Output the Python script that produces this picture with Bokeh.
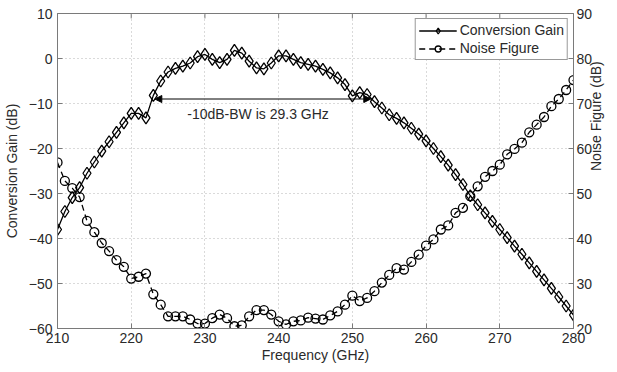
import math
from bokeh.plotting import figure
from bokeh.models import (Range1d, LinearAxis, FixedTicker, Legend, LegendItem,
                          Arrow, NormalHead, Label)
from bokeh.embed import file_html
from bokeh.resources import INLINE

# ---------------- data ----------------
freq = [210, 211, 212, 213, 214, 215, 216, 217, 218, 219,
        220, 221, 222, 223, 224, 225, 226, 227, 228, 229,
        230, 231, 232, 233, 234, 235, 236, 237, 238, 239,
        240, 241, 242, 243, 244, 245, 246, 247, 248, 249,
        250, 251, 252, 253, 254, 255, 256, 257, 258, 259,
        260, 261, 262, 263, 264, 265, 266, 267, 268, 269,
        270, 271, 272, 273, 274, 275, 276, 277, 278, 279, 280]

conv_gain = [-38.0, -34.0, -30.9, -28.7, -25.5, -23.0, -20.6, -18.5, -16.4, -14.3,
             -12.2, -12.2, -13.2, -8.2, -5.0, -3.0, -2.2, -1.7, -1.0, 0.4,
             0.9, -0.2, -0.9, -0.2, 1.8, 1.2, -0.6, -2.1, -2.3, -1.0,
             0.6, 0.6, -0.2, -0.9, -1.3, -1.7, -2.4, -3.2, -4.3, -5.8,
             -8.3, -7.6, -8.0, -9.6, -11.0, -12.5, -13.3, -14.3, -15.5, -16.8,
             -18.3, -20.0, -21.8, -23.7, -25.8, -28.0, -30.5, -32.5, -34.3, -36.2,
             -38.0, -39.8, -41.7, -43.5, -45.4, -47.3, -49.2, -51.1, -53.0, -55.0, -57.0]

noise_fig = [56.9, 52.8, 51.2, 49.2, 43.9, 41.4, 39.0, 37.2, 35.2, 33.7,
             31.1, 31.5, 32.2, 27.6, 25.3, 22.7, 22.7, 22.7, 22.0, 21.1,
             21.1, 22.3, 23.1, 22.3, 20.5, 20.7, 22.7, 24.1, 24.1, 23.1,
             21.6, 20.9, 21.6, 21.8, 22.4, 22.2, 22.0, 22.9, 23.8, 25.3,
             27.3, 26.1, 26.8, 28.3, 30.2, 31.9, 33.4, 33.1, 34.8, 36.4,
             38.4, 39.8, 42.0, 42.9, 45.7, 46.8, 49.4, 51.6, 53.7, 55.0,
             56.4, 58.7, 59.9, 61.3, 63.6, 65.3, 67.0, 69.4, 71.0, 73.0, 75.2]

x_ticks = [210, 220, 230, 240, 250, 260, 270, 280]
cg_ticks = [-60, -50, -40, -30, -20, -10, 0, 10]
nf_ticks = [20, 30, 40, 50, 60, 70, 80, 90]

bw_start = 223.2
bw_end = 252.5
bw_level = -9.0
bw_text = "-10dB-BW is 29.3 GHz"
bw_text_x = 227.6
bw_text_y = -12.4

FONT = "Liberation Sans"
AX_COL = "#7a7a7a"
TXT_COL = "#2a2a2a"

p = figure(width=615, height=365, output_backend="svg", toolbar_location=None,
           x_range=Range1d(210, 280), y_range=Range1d(-60, 10),
           min_border_left=46, min_border_right=30, min_border_top=13,
           min_border_bottom=35, background_fill_color="white",
           border_fill_color="white")
p.extra_y_ranges = {"nf": Range1d(20, 90)}
p.outline_line_color = AX_COL
p.outline_line_width = 1

p.xaxis.visible = False
p.yaxis.visible = False


def style_axis(ax):
    ax.axis_line_color = AX_COL
    ax.major_tick_line_color = AX_COL
    ax.major_tick_in = 5
    ax.major_tick_out = 0
    ax.minor_tick_line_color = None
    ax.major_label_text_font = FONT
    ax.major_label_text_font_size = "14px"
    ax.major_label_text_color = TXT_COL
    ax.axis_label_text_font = FONT
    ax.axis_label_text_font_size = "14px"
    ax.axis_label_text_font_style = "normal"
    ax.axis_label_text_color = TXT_COL


xb = LinearAxis(ticker=FixedTicker(ticks=x_ticks), axis_label="Frequency (GHz)")
style_axis(xb)
xb.major_label_standoff = 4
xb.axis_label_standoff = 1
p.add_layout(xb, "below")

yl = LinearAxis(ticker=FixedTicker(ticks=cg_ticks), axis_label="Conversion Gain (dB)")
style_axis(yl)
yl.major_label_standoff = 5
yl.axis_label_standoff = 6
p.add_layout(yl, "left")

yr = LinearAxis(y_range_name="nf", ticker=FixedTicker(ticks=nf_ticks),
                axis_label="Noise Figure (dB)")
style_axis(yr)
yr.major_label_standoff = 3
yr.axis_label_standoff = 1
yr.axis_label_orientation = math.pi / 2
p.add_layout(yr, "right")

# inward ticks along the top edge of the box
y_top = cg_ticks[-1]
tick_len = 1.1
p.segment(x0=x_ticks, y0=[y_top] * len(x_ticks), x1=x_ticks,
          y1=[y_top - tick_len] * len(x_ticks), line_color=AX_COL, line_width=1)

p.xgrid.ticker = FixedTicker(ticks=x_ticks)
p.ygrid.ticker = FixedTicker(ticks=cg_ticks)
for g in (p.xgrid, p.ygrid):
    g.grid_line_color = "#b5b5b5"
    g.grid_line_dash = "1 3"
    g.grid_line_width = 1

cg_line = p.line(freq, conv_gain, line_color="black", line_width=1.3)
cg_pts = p.scatter(freq, conv_gain, marker="diamond", size=12, line_color="black",
                   line_width=1.3, fill_alpha=0)
nf_line = p.line(freq, noise_fig, y_range_name="nf", line_color="black",
                 line_width=1.3, line_dash="6 4")
nf_pts = p.scatter(freq, noise_fig, y_range_name="nf", marker="circle", size=9,
                   line_color="black", line_width=1.3, fill_alpha=0)

arrow = Arrow(x_start=bw_start, y_start=bw_level, x_end=bw_end, y_end=bw_level,
              line_color="black", line_width=1,
              start=NormalHead(size=7, fill_color="black", line_color="black"),
              end=NormalHead(size=7, fill_color="black", line_color="black"))
p.add_layout(arrow)

p.add_layout(Label(x=bw_text_x, y=bw_text_y, text=bw_text, text_font=FONT,
                   text_font_size="14px", text_color=TXT_COL,
                   text_baseline="middle", text_align="left"))

legend = Legend(items=[LegendItem(label="Conversion Gain", renderers=[cg_line, cg_pts]),
                       LegendItem(label="Noise Figure", renderers=[nf_line, nf_pts])],
                location="top_right")
legend.margin = 5
legend.padding = 3
legend.spacing = 2
legend.glyph_width = 38
legend.glyph_height = 15
legend.label_height = 15
legend.label_standoff = 3
legend.label_text_font = FONT
legend.label_text_font_size = "14px"
legend.label_text_color = TXT_COL
legend.border_line_color = "#333333"
legend.border_line_width = 1
legend.background_fill_alpha = 1
p.add_layout(legend, "center")

open("out.html", "w").write(file_html(p, INLINE))
